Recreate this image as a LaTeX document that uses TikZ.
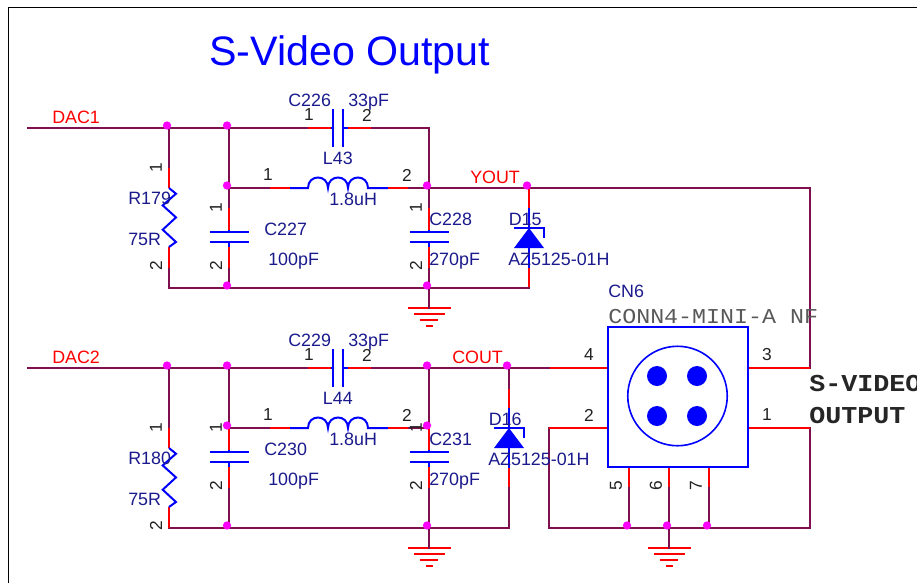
\documentclass[tikz,border=0pt]{standalone}
\usepackage{fontspec}
\setmainfont{Liberation Sans}
\newfontfamily\monofont[FakeStretch=1.1]{Liberation Mono}
\definecolor{netcol}{HTML}{7F0F4F}
\definecolor{labcol}{HTML}{1A1A8C}
\definecolor{pincol}{HTML}{222222}
\definecolor{dotcol}{HTML}{FF00FF}
\tikzset{
	wire/.style={draw=netcol,line width=1.5pt,line cap=rect},
	pinred/.style={draw=red,line width=1.5pt},
	part/.style={draw=blue,line width=1.5pt},
	junct/.style={fill=dotcol},
	partlab/.style={anchor=base west,inner sep=0pt,text=labcol,font=\fontsize{13.4}{13.4}\selectfont},
	netlab/.style={anchor=base west,inner sep=0pt,text=red,font=\fontsize{13.4}{13.4}\selectfont},
	pinlab/.style={inner sep=0pt,text=pincol,font=\fontsize{13}{13}\selectfont},
}
\begin{document}
\begin{tikzpicture}[x=0.75pt,y=-0.75pt]
	\useasboundingbox (0,0) rectangle (917,583);
	\coordinate (fa) at (8.5,583);
	\coordinate (fb) at (8.5,7.5);
	\coordinate (fc) at (917,7.5);
	\draw[black,line width=1.1pt] (fa) -- (fb) -- (fc);
	\node[anchor=base west,inner sep=0pt,text=blue,font=\fontsize{30.9}{30.9}\selectfont] (title) at (209,65) {S-Video Output};
	% the two filter stages
	\foreach \s/\o/\r/\c in {a/0/168/208,b/240/428/428} {
		\coordinate (dac\s) at (28,128+\o);
		\coordinate (jr\s) at (169,128+\o);
		\coordinate (jc\s) at (229,128+\o);
		\coordinate (rp\s) at (169,\r);
		\coordinate (rq\s) at (169,\r+20);
		\coordinate (rs\s) at (169,\r+79);
		\coordinate (rt\s) at (169,\r+100);
		\coordinate (gr\s) at (169,288+\o);
		\coordinate (gc\s) at (229,288+\o);
		\coordinate (gt\s) at (429,288+\o);
		\coordinate (ll\s) at (229,188+\o);
		\coordinate (lj\s) at (429,188+\o);
		\coordinate (sj\s) at (429,128+\o);
		\foreach \n/\x in {la/270,lb/290,lc/308,ld/368,le/388,lf/408} \coordinate (\n\s) at (\x,188+\o);
		\foreach \n/\x in {sa/308,sb/331,sc/333,sd/343,se/348,sf/371} \coordinate (\n\s) at (\x,128+\o);
		% net wires
		\draw[wire] (dac\s) -- (sa\s);
		\draw[wire] (sf\s) -- (sj\s) -- (lj\s);
		\draw[wire] (ll\s) -- (la\s);
		\draw[wire] (lf\s) -- (lj\s);
		\draw[wire] (jr\s) -- (rp\s);
		\draw[wire] (jc\s) -- (ll\s);
		\draw[wire] (rt\s) -- (gr\s) -- (gc\s) -- (gt\s);
		% resistor
		\draw[pinred] (rp\s) -- (rq\s);
		\draw[pinred] (rs\s) -- (rt\s);
		\draw[part] (rq\s) -- ++(7,5.7) -- ++(-13.3,11.7) -- ++(13.3,12) -- ++(-13.3,12.3) -- ++(13.3,12.3) -- (rs\s);
		% inductor
		\draw[pinred] (la\s) -- (lb\s);
		\draw[pinred] (le\s) -- (lf\s);
		\draw[part] (lb\s) -- (lc\s) .. controls +(0,-14) and +(0,-14) .. ++(20,0) .. controls +(0,-14) and +(0,-14) .. ++(20,0) .. controls +(0,-14) and +(0,-14) .. (ld\s) -- (le\s);
		% series capacitor
		\draw[pinred] (sa\s) -- (sb\s);
		\draw[pinred] (se\s) -- (sf\s);
		\draw[part] (sb\s) -- (sc\s);
		\draw[part] (sd\s) -- (se\s);
		\draw[part] (333,109+\o) -- (333,147+\o);
		\draw[part] (343,109+\o) -- (343,147+\o);
		% shunt capacitors
		\foreach \n/\x in {l/229,t/429} {
			\coordinate (cp\n\s) at (\x,\c);
			\coordinate (cq\n\s) at (\x,\c+22);
			\coordinate (cu\n\s) at (\x,\c+24);
			\coordinate (cv\n\s) at (\x,\c+34);
			\coordinate (cw\n\s) at (\x,\c+39);
			\coordinate (cx\n\s) at (\x,\c+60);
			\coordinate (cy\n\s) at (\x,288+\o);
			\draw[wire] (\x,188+\o) -- (cp\n\s);
			\draw[wire] (cx\n\s) -- (cy\n\s);
			\draw[pinred] (cp\n\s) -- (cq\n\s);
			\draw[pinred] (cw\n\s) -- (cx\n\s);
			\draw[part] (cq\n\s) -- (cu\n\s);
			\draw[part] (cv\n\s) -- (cw\n\s);
			\draw[part] (\x-19.5,\c+24) -- (\x+20,\c+24);
			\draw[part] (\x-19.5,\c+34) -- (\x+20,\c+34);
		}
	}
	% grounds
	\foreach \n/\x/\y in {gda/429/308,gdb/429/548,gdc/669/548} {
		\coordinate (\n) at (\x,\y);
		\draw[pinred] (\x-21,\y) -- (\x+22,\y);
		\draw[pinred] (\x-15,\y+6) -- (\x+16,\y+6);
		\draw[pinred] (\x-9,\y+12) -- (\x+9,\y+12);
		\draw[pinred] (\x-3,\y+18) -- (\x+4,\y+18);
	}
	\draw[wire] (gta) -- (gda);
	\draw[wire] (gtb) -- (gdb);
	% diodes
	\foreach \n/\x/\p in {da/529/188,db/509/388} {
		\coordinate (\n p) at (\x,\p);
		\coordinate (\n q) at (\x,\p+20);
		\coordinate (\n u) at (\x,\p+40);
		\coordinate (\n v) at (\x,\p+60);
		\coordinate (\n w) at (\x,\p+80);
		\coordinate (\n x) at (\x,\p+100);
		\draw[pinred] (\n p) -- (\n q);
		\draw[pinred] (\n w) -- (\n x);
		\draw[part] (\n q) -- (\n u);
		\draw[part] (\n v) -- (\n w);
		\draw[part] (\x-15,\p+40) -- (\x+15,\p+40) -- (\x+15,\p+50);
		\fill[blue] (\n u) -- (\x+15,\p+60) -- (\x-15,\p+60) -- cycle;
	}
	% connector
	\coordinate (dbj) at (509,368);
	\coordinate (pn4) at (550,368);
	\coordinate (cn4) at (608,368);
	\coordinate (pn2) at (549,428);
	\coordinate (cn2) at (608,428);
	\coordinate (cn3) at (748,368);
	\coordinate (pn3) at (810,368);
	\coordinate (cn1) at (748,428);
	\coordinate (pn1) at (810,428);
	\coordinate (yc) at (810,188);
	\coordinate (yd) at (529,288);
	\coordinate (cd) at (509,528);
	\coordinate (gl) at (549,528);
	\coordinate (gm) at (669,528);
	\coordinate (gx) at (810,528);
	\draw[wire] (ljb) -- (sjb) -- (pn4);
	\draw[wire] (dbj) -- (dbp);
	\draw[wire] (lja) -- (yc) -- (pn3);
	\draw[wire] (gta) -- (yd);
	\draw[wire] (gtb) -- (cd) -- (dbx);
	\draw[wire] (pn2) -- (gl) -- (gx) -- (pn1);
	\draw[wire] (gm) -- (gdc);
	\draw[pinred] (pn4) -- (cn4);
	\draw[pinred] (pn2) -- (cn2);
	\draw[pinred] (cn3) -- (pn3);
	\draw[pinred] (cn1) -- (pn1);
	\foreach \i/\x in {5/629,6/669,7/709} {
		\coordinate (pb\i) at (\x,467);
		\coordinate (pc\i) at (\x,488);
		\coordinate (pd\i) at (\x,528);
		\draw[pinred] (pb\i) -- (pc\i);
		\draw[wire] (pc\i) -- (pd\i);
	}
	\draw[part] (608,327) rectangle (748,467);
	\draw[blue,line width=1.2pt] (677.5,396) circle (37.3pt);
	\foreach \x in {657,697} \foreach \y in {376,416} \fill[blue] (\x,\y) circle (7.5pt);
	% junction dots
	\foreach \n in {jra,jca,lla,gca,lja,gta,jrb,jcb,llb,gcb,ljb,sjb,gtb,dbj,pd5,gm,pd7,dap} {
		\fill[junct] ([xshift=-1.5pt,yshift=1.9pt]\n) circle (3.1pt);
	}
	% part labels
	\foreach \n/\x/\y/\t in {
		ca/288/106/C226,va/348/106/33pF,la/322.7/164.5/L43,ua/329/205/1.8uH,
		cb/429/225/C228,vb/429/265/270pF,da/508.5/225/D15,za/508/265/AZ5125-01H,
		ra/128/204/R179,wa/128/245/75R,cc/264/235/C227,vc/268/265/100pF,
		cd/288/346/C229,vd/348/346/33pF,lb/322.7/404.5/L44,ub/329/445/1.8uH,
		ce/429/445/C231,ve/429/485/270pF,db/488.5/425/D16,zb/488/465/AZ5125-01H,
		rb/128/464/R180,wb/128/505/75R,cf/264/455/C230,vf/268/485/100pF,
		cn/608/297/CN6} {
		\node[partlab] (lab\n) at (\x,\y) {\t};
	}
	\foreach \n/\x/\y/\t in {daca/52/123/DAC1,dacb/52/363/DAC2,yout/470/183/YOUT,cout/452/363/COUT} {
		\node[netlab] (\n) at (\x,\y) {\t};
	}
	% pin numbers
	\foreach \n/\x/\y/\t in {
		a/309/115/1,b/367/115/2,c/268/175/1,d/407/175/2,e/309/355/1,f/367/355/2,g/268/415/1,h/407/415/2,
		i/589/355/4,j/589/415/2,k/767/355/3,l/767/415/1} {
		\node[pinlab] (pin\n) at (\x,\y) {\t};
	}
	\foreach \n/\x/\y/\t in {
		a/156/168/1,b/156/266/2,c/216/208/1,d/216/266/2,e/416/208/1,f/416/266/2,
		g/156/428/1,h/156/526/2,i/216/428/1,j/216/486/2,k/416/428/1,l/416/486/2,
		m/616/486/5,n/656/486/6,o/696/486/7} {
		\node[pinlab,rotate=90] (vpin\n) at (\x,\y) {\t};
	}
	\node[anchor=base west,inner sep=0pt,text=black!65,font=\monofont\fontsize{15.9}{15.9}\selectfont] (conn) at (608,323) {CONN4-MINI-A NF};
	\node[anchor=base west,inner sep=0pt,text=black!85,font=\monofont\bfseries\fontsize{18.2}{18.2}\selectfont] (svid) at (809,391) {S-VIDEO};
	\node[anchor=base west,inner sep=0pt,text=black!85,font=\monofont\bfseries\fontsize{18.2}{18.2}\selectfont] (sout) at (809,423) {OUTPUT};
\end{tikzpicture}
\end{document}
